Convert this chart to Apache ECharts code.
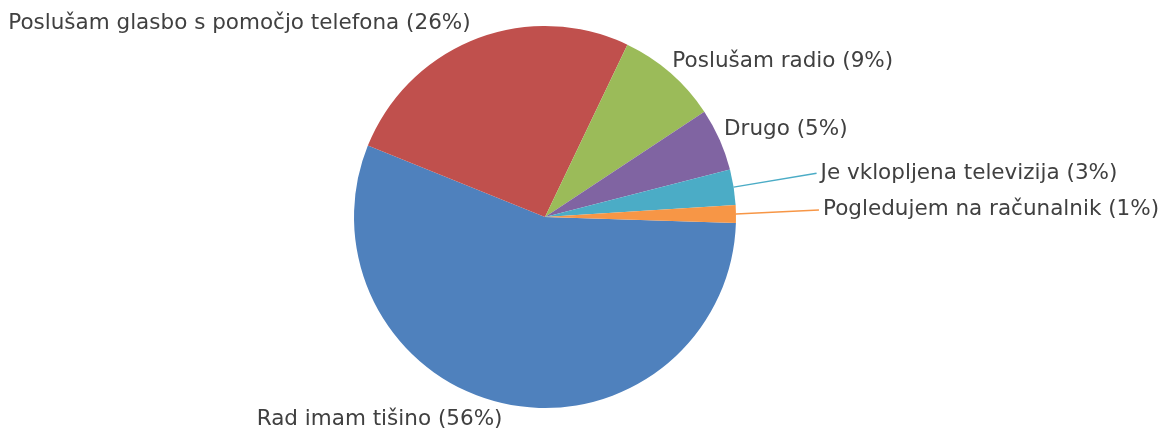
<!DOCTYPE html>
<html>
<head>
<meta charset="utf-8">
<script src="https://cdn.jsdelivr.net/npm/echarts@6/dist/echarts.min.js"></script>
<style>
html, body { margin: 0; padding: 0; background: #fff; }
#chart { width: 1167px; height: 430px; }
</style>
</head>
<body>
<div id="chart"></div>
<script>
var names = [
  'Rad imam tišino',
  'Poslušam glasbo s pomočjo telefona',
  'Poslušam radio',
  'Drugo',
  'Je vklopljena televizija',
  'Pogledujem na računalnik'
];
var values = [55.6, 26, 8.6, 5.3, 3.0, 1.5];
var colors = ['#4F81BD', '#C0504D', '#9BBB59', '#8064A2', '#4BACC6', '#F79646'];
// only the two thin slices get a visible leader line
var showLine = [false, false, false, false, true, true];
// small nudges of the labels, to sit like the original ones
var labelShift = [[3, 10], [2, -10], [-7, -7], [-6, -8], [4, -13], [4, -4]];

var myChart = echarts.init(document.getElementById('chart'));

var data = names.map(function (n, i) {
  return {
    name: n,
    value: values[i],
    itemStyle: { color: colors[i] },
    labelLine: showLine[i]
      ? { show: true, length: 6, length2: 72, lineStyle: { color: colors[i], width: 1.5 } }
      : { show: false }
  };
});

var option = {
  animation: false,
  series: [
    {
      type: 'pie',
      center: [545, 217],
      radius: 191,
      startAngle: -1.8,
      clockwise: true,
      percentPrecision: 0,
      avoidLabelOverlap: true,
      label: {
        show: true,
        formatter: '{b} ({d}%)',
        fontFamily: 'DejaVu Sans',
        fontSize: 21.5,
        color: '#404040',
        overflow: 'none'
      },
      labelLine: { length: 6, length2: 0 },
      labelLayout: function (params) {
        var s = labelShift[params.dataIndex];
        var out = { dx: s[0], dy: s[1] };
        var pts = params.labelLinePoints;
        if (showLine[params.dataIndex] && pts) {
          // straight leader from the slice edge to the moved label
          var r = params.labelRect;
          out.labelLinePoints = [
            pts[0],
            [r.x + s[0] - 4, r.y + r.height / 2 + s[1]]
          ];
        }
        return out;
      },
      data: data
    }
  ]
};

myChart.setOption(option);
</script>
</body>
</html>
